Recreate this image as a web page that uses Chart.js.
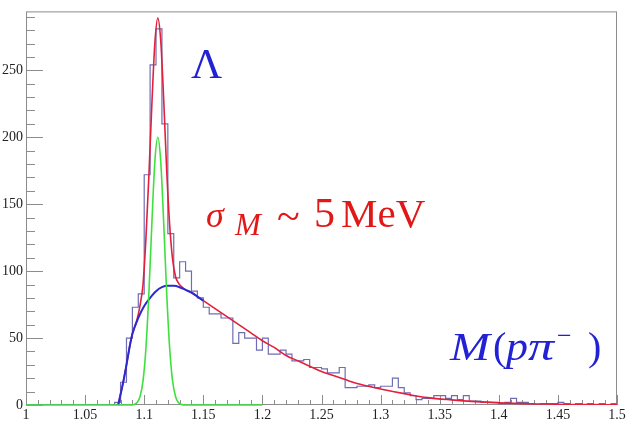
<!DOCTYPE html>
<html>
<head>
<meta charset="utf-8">
<script src="https://cdn.jsdelivr.net/npm/chart.js@4/dist/chart.umd.min.js"></script>
<style>
    html, body { margin: 0; padding: 0; background: #fff; }
    #chart { display: block; }
</style>
</head>
<body>
<canvas id="chart" width="632" height="424"></canvas>
<script>
// histogram: 100 bins of 5 MeV from 1.0 to 1.5 GeV
const binLow = 1.0;
const binWidth = 0.005;
const histCounts = [
    0, 0, 0, 0, 0, 0, 0, 0, 0, 0,             // 1.00 - 1.045
    0, 0, 0, 0, 0, 2, 17, 50, 73, 83,          // 1.05 - 1.095
    172, 254, 281, 210, 128, 95, 107, 100, 85, 80, // 1.10 - 1.145
    73, 68, 68, 65, 65, 46, 54, 50, 50, 41,    // 1.15 - 1.195
    50, 38, 38, 41, 38, 33, 33, 34, 28, 28,    // 1.20 - 1.245
    27, 24, 24, 28, 13, 13, 14, 14, 15, 13,    // 1.25 - 1.295
    14, 14, 20, 13, 9, 7, 4, 5, 5, 7,          // 1.30 - 1.345
    7, 5, 7, 4, 7, 3, 3, 2, 2, 2,              // 1.35 - 1.395
    1, 2, 5, 2, 2, 1, 0, 1, 1, 1,              // 1.40 - 1.445
    2, 1, 0, 1, 0, 1, 0, 1, 0, 1               // 1.45 - 1.495
];

// total fit (red)
const redX = [1.078, 1.080, 1.082, 1.085, 1.088, 1.090, 1.094, 1.0965, 1.099, 1.1015, 1.104, 1.1065,
    1.109, 1.1115, 1.114, 1.1165, 1.119, 1.1215, 1.124, 1.1265, 1.129, 1.1315, 1.135, 1.140, 1.145, 1.150,
    1.160, 1.170, 1.180, 1.190, 1.200, 1.210, 1.220, 1.230, 1.240, 1.250, 1.260, 1.270, 1.280, 1.290, 1.300,
    1.320, 1.340, 1.360, 1.380, 1.400, 1.420, 1.440, 1.460, 1.480, 1.500];
const redY = [0, 8, 16, 30, 45, 53.3, 64, 74.5, 90, 125, 172, 225,
    270, 289, 272, 228, 176, 135, 109, 96, 91, 88.5, 86, 84, 81, 78,
    72, 66, 60, 54, 48, 43, 37, 33, 29, 25, 22, 19, 16, 14, 12,
    8.5, 5.5, 3.8, 2.5, 1.6, 1.0, 0.7, 0.4, 0.25, 0.15];

// background (blue)
const blueX = [1.078, 1.080, 1.082, 1.085, 1.088, 1.090, 1.095, 1.100, 1.105, 1.110, 1.115, 1.120,
    1.125, 1.130, 1.135, 1.140, 1.145, 1.150];
const blueY = [0, 8, 16, 30, 45, 53, 65, 74, 80, 85, 88, 89, 89, 88, 86, 84, 81, 78];

// signal peak (green)
const greenX = [1.000, 1.088, 1.0915, 1.094, 1.0965, 1.099, 1.1015, 1.104, 1.1065, 1.109, 1.1115,
    1.114, 1.1165, 1.119, 1.1215, 1.124, 1.1265, 1.129, 1.1315, 1.135, 1.200];
const greenY = [0, 0, 0.4, 1.8, 6.3, 18, 43, 84, 136, 181.7, 200,
    181.7, 136, 84, 43, 18, 6.3, 1.8, 0.4, 0, 0];

const toPoints = (xs, ys) => xs.map((x, i) => ({ x, y: ys[i] }));

function histPoints() {
    const pts = histCounts.map((c, i) => ({ x: binLow + i * binWidth, y: c }));
    pts.push({ x: binLow + histCounts.length * binWidth, y: histCounts[histCounts.length - 1] });
    return pts;
}

// ROOT style frame with ticks inside
const framePlugin = {
    id: 'frame',
    beforeDatasetsDraw(chart) {
        const { ctx, chartArea: a, scales } = chart;
        ctx.save();
        ctx.strokeStyle = '#8c8c8c';
        ctx.lineWidth = 1;
        ctx.strokeRect(a.left + 0.5, a.top + 0.5, a.right - a.left - 1, a.bottom - a.top - 1);

        ctx.beginPath();
        for (let v = 0; v <= 290; v += 10) {
            const y = Math.round(scales.y.getPixelForValue(v)) + 0.5;
            const len = v % 50 === 0 ? 17 : 9;
            ctx.moveTo(a.left, y);
            ctx.lineTo(a.left + len, y);
        }
        for (let k = 0; k <= 50; k++) {
            const x = Math.round(scales.x.getPixelForValue(1 + k * 0.01)) + 0.5;
            const len = k % 5 === 0 ? 10 : 5;
            ctx.moveTo(x, a.bottom);
            ctx.lineTo(x, a.bottom - len);
        }
        ctx.stroke();
        ctx.restore();
    }
};

function stretchText(ctx, text, x, y, sx) {
    ctx.save();
    ctx.translate(x, y);
    ctx.scale(sx, 1);
    ctx.fillText(text, 0, 0);
    ctx.restore();
}

const labelPlugin = {
    id: 'labels',
    afterDatasetsDraw(chart) {
        const ctx = chart.ctx;
        ctx.save();
        ctx.textBaseline = 'alphabetic';
        ctx.textAlign = 'left';

        // Lambda
        ctx.fillStyle = '#2222d4';
        ctx.font = '43px "Liberation Serif"';
        ctx.fillText('Λ', 191, 78);

        // sigma_M ~ 5 MeV
        ctx.fillStyle = '#e01818';
        ctx.font = 'italic 36px "Liberation Serif"';
        ctx.fillText('σ', 206, 227);
        ctx.font = 'italic 31px "Liberation Serif"';
        ctx.fillText('M', 235, 235);
        ctx.font = '42px "Liberation Serif"';
        ctx.fillText('~', 277, 230);
        ctx.fillText('5', 314, 227);
        ctx.font = '41px "Liberation Serif"';
        ctx.fillText('MeV', 341, 227);

        // M(p pi-)
        ctx.fillStyle = '#2222d4';
        ctx.font = 'italic 40px "Liberation Serif"';
        stretchText(ctx, 'M', 450, 360, 1.2);
        ctx.font = '40px "Liberation Serif"';
        ctx.fillText('(', 493, 360);
        ctx.font = 'italic 40px "Liberation Serif"';
        stretchText(ctx, 'p', 506, 360, 1.1);
        stretchText(ctx, 'π', 528, 360, 1.3);
        ctx.font = '26px "Liberation Serif"';
        ctx.fillText('−', 557, 344);
        ctx.font = '40px "Liberation Serif"';
        ctx.fillText(')', 588, 360);
        ctx.restore();
    }
};

new Chart(document.getElementById('chart'), {
    type: 'line',
    data: {
        datasets: [
            {
                label: 'signal',
                data: toPoints(greenX, greenY),
                borderColor: '#3ee03e',
                borderWidth: 1.6,
                pointRadius: 0,
                cubicInterpolationMode: 'monotone',
                clip: false,
                order: 0
            },
            {
                label: 'background',
                data: toPoints(blueX, blueY),
                borderColor: '#2a2ad2',
                borderWidth: 2,
                pointRadius: 0,
                cubicInterpolationMode: 'monotone',
                clip: false,
                order: 1
            },
            {
                label: 'fit',
                data: toPoints(redX, redY),
                borderColor: '#e2203c',
                borderWidth: 1.6,
                pointRadius: 0,
                cubicInterpolationMode: 'monotone',
                order: 2
            },
            {
                label: 'data',
                data: histPoints(),
                borderColor: '#6d6db4',
                borderWidth: 1.2,
                pointRadius: 0,
                stepped: 'before',
                order: 3
            }
        ]
    },
    options: {
        responsive: false,
        animation: false,
        devicePixelRatio: 1,
        layout: { padding: { top: 7, right: 15, left: 0, bottom: 0 } },
        plugins: {
            legend: { display: false },
            tooltip: { enabled: false }
        },
        scales: {
            x: {
                type: 'linear',
                min: 1,
                max: 1.5,
                grid: { display: false, drawTicks: false },
                border: { display: false },
                ticks: {
                    stepSize: 0.05,
                    padding: 2,
                    maxRotation: 0,
                    autoSkip: false,
                    color: '#222',
                    font: { family: '"Liberation Serif"', size: 14 },
                    callback: (v) => String(Number(v.toFixed(2)))
                },
                afterFit: (scale) => { scale.height = 19; }
            },
            y: {
                min: 0,
                max: 294,
                grid: { display: false, drawTicks: false },
                border: { display: false },
                ticks: {
                    stepSize: 50,
                    includeBounds: false,
                    padding: 3,
                    color: '#222',
                    font: { family: '"Liberation Serif"', size: 14 }
                },
                afterFit: (scale) => { scale.width = 26; }
            }
        }
    },
    plugins: [framePlugin, labelPlugin]
});
</script>
</body>
</html>
